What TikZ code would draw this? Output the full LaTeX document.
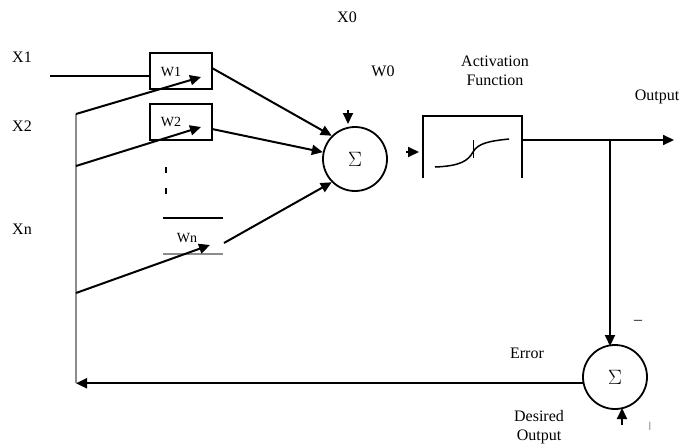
\documentclass[tikz,border=0pt]{standalone}
\usepackage{fontspec}
\setmainfont{Liberation Serif}
\usetikzlibrary{arrows.meta}
\begin{document}
\begin{tikzpicture}[x=1pt,y=-1pt,
  ln/.style={line width=2pt,black},
  gl/.style={line width=1.5pt,black!45},
  arr/.style={ln,-{Triangle[length=11pt,width=10pt]}},
  wbox/.style={draw,line width=1.8pt,minimum width=62pt,minimum height=36pt,inner sep=0pt},
  sumc/.style={circle,draw,line width=1.8pt,minimum size=64pt,inner sep=0pt,font=\fontsize{20}{22}\selectfont},
  lbl/.style={inner sep=0pt,font=\fontsize{16}{19}\selectfont},
  slbl/.style={inner sep=0pt,font=\fontsize{14}{16}\selectfont}]
\useasboundingbox (0,0) rectangle (682,447);
% labels
\node[lbl] (x0) at (347,17) {X0};
\node[lbl] (x1) at (22,57) {X1};
\node[lbl] (x2) at (22,126) {X2};
\node[lbl] (xn) at (22,229) {Xn};
\node[lbl] (w0) at (383,71) {W0};
\node[lbl,align=center] (actl) at (495,71) {Activation\\Function};
\node[lbl] (outl) at (657,97) {Output};
\node[lbl] (minus) at (638,322) {--};
\node[lbl] (errl) at (527,353) {Error};
\node[lbl,align=center] (desl) at (539,427) {Desired\\Output};
\node[inner sep=0pt,font=\fontsize{9}{10}\selectfont] (plus) at (650,426) {|};
% weight boxes
\node[wbox] (w1) at (181,71) {};
\node[wbox] (w2) at (181,122) {};
\node[slbl] (w1t) at (171,72) {W1};
\node[slbl] (w2t) at (171,122) {W2};
\node[slbl] (wnt) at (187,238) {Wn};
\draw[ln,line width=2.5pt] (166,167) -- (166,173);
\draw[ln,line width=2.5pt] (166,188) -- (166,194);
\coordinate (wnTL) at (163,218); \coordinate (wnTR) at (223,218);
\coordinate (wnBL) at (163,254); \coordinate (wnBR) at (223,254);
\draw[ln] (wnTL) -- (wnTR);
\draw[gl] (wnBL) -- (wnBR);
% summation nodes
\node[sumc] (s1) at (355,159) {$\Sigma$};
\node[sumc] (s2) at (615,377) {$\Sigma$};
% inputs
\coordinate (x1s) at (50,76);
\draw[ln] (x1s) -- (x1s -| w1.west);
\coordinate (vTop) at (76,114);
\coordinate (v2) at (76,166);
\coordinate (vn) at (76,293);
\coordinate (vBot) at (76,383);
\draw[gl] (vTop) -- (vBot);
\coordinate (t1) at (201,77);
\coordinate (t2) at (201,127);
\coordinate (tn) at (210,245);
\draw[arr] (vTop) -- (t1);
\draw[arr] (v2) -- (t2);
\draw[arr] (vn) -- (tn);
% weights to sum
\coordinate (o1) at (212,68);
\coordinate (o2) at (212,129);
\coordinate (on) at (224,243);
\draw[arr] (o1) -- (s1.135);
\draw[arr] (o2) -- (s1.168);
\draw[arr] (on) -- (s1.225);
% bias arrow
\coordinate (b0s) at (348,110);
\coordinate (b0e) at (348,124);
\draw[arr] (b0s) -- (b0e);
% activation box
\node[minimum width=99pt,minimum height=62pt,inner sep=0pt] (act) at (472.5,147) {};
\draw[line width=1.5pt] (act.south west) -- (act.north west) -- (act.north east) -- (act.south east);
\coordinate (ains) at (406,152);
\coordinate (aine) at (419,152);
\draw[arr] (ains) -- (aine);
\draw[line width=1.5pt] (435,167) .. controls (460,166) and (468,161) .. (473,152) .. controls (478,143) and (490,141) .. (509,139);
\draw[line width=1pt] (473,140) -- (473,158);
% output
\coordinate (ao) at (522,140);
\coordinate (oend) at (674,140);
\coordinate (br) at (610,140);
\draw[arr] (ao) -- (oend);
\coordinate (br2) at (610,346);
\draw[arr] (br) -- (br2);
% desired output arrow
\coordinate (ds) at (622,425);
\coordinate (de) at (622,408);
\draw[arr] (ds) -- (de);
% feedback
\draw[arr] (s2.191) -- (s2.191 -| vBot);
\end{tikzpicture}
\end{document}
